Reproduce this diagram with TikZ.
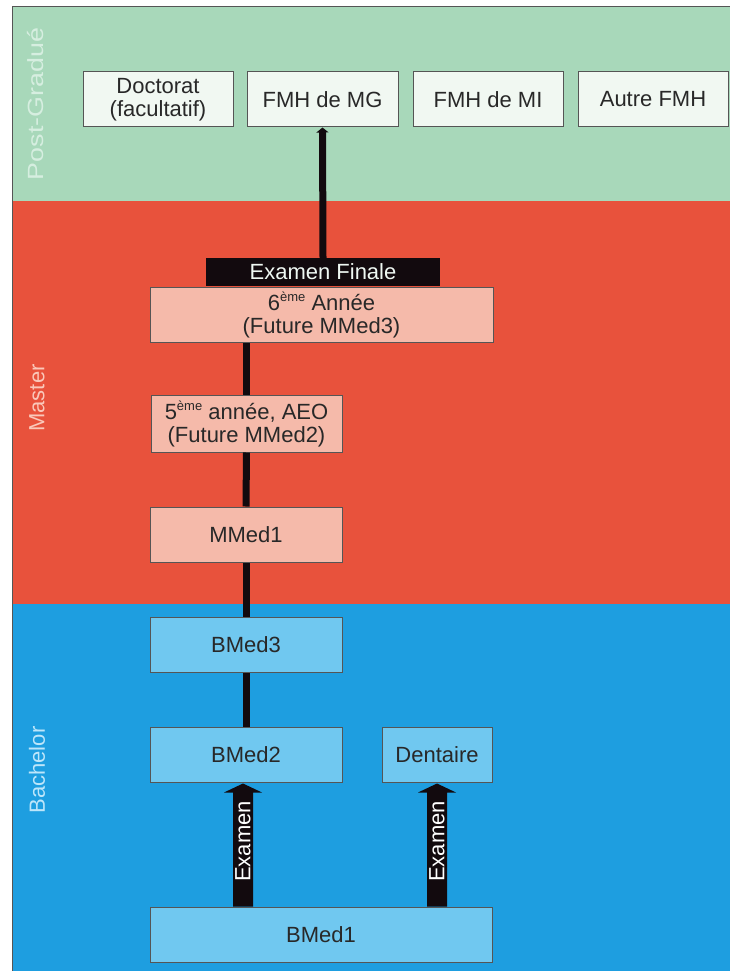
\documentclass[tikz,border=0pt]{standalone}
\usepackage{fontspec}
\usepackage{graphicx}
\setmainfont{Liberation Sans}
\usetikzlibrary{calc,arrows.meta}
\definecolor{bggreen}{RGB}{168,216,186}
\definecolor{bgred}{RGB}{232,82,60}
\definecolor{bgblue}{RGB}{30,158,224}
\definecolor{boxgreen}{RGB}{241,248,242}
\definecolor{boxred}{RGB}{245,186,170}
\definecolor{boxblue}{RGB}{112,200,240}
\definecolor{boxline}{RGB}{85,85,85}
\definecolor{txtgrey}{RGB}{40,40,40}
\definecolor{lblgreen}{RGB}{214,238,224}
\definecolor{lblred}{RGB}{250,200,186}
\definecolor{lblblue}{RGB}{190,230,250}
\definecolor{nearblack}{RGB}{18,10,14}
\newcommand\myeme{\raisebox{9pt}{\fontsize{13}{13}\selectfont ème}}
\tikzset{
  every node/.style={font=\fontsize{22}{23}\selectfont},
  stagebox/.style={draw=boxline, line width=1pt, inner sep=0pt, align=center, text=txtgrey, minimum height=55pt},
  gbox/.style={stagebox, fill=boxgreen, minimum width=150pt},
  rbox/.style={stagebox, fill=boxred},
  bbox/.style={stagebox, fill=boxblue},
  sidelabel/.style={rotate=90, inner sep=0pt, font=\fontsize{22}{23}\selectfont},
  linkline/.style={draw=nearblack, line width=7pt},
  linkarrow/.style={linkline, -{Triangle[width=12pt,length=5pt]}},
  blockarrow/.style={fill=nearblack},
}
\begin{document}
\begin{tikzpicture}[x=1pt,y=-1pt]
\useasboundingbox (0,0) rectangle (730,971);
% bands
\fill[bggreen] (12,7) rectangle (730,201);
\fill[bgred] (12,201) rectangle (730,604);
\fill[bgblue] (12,604) rectangle (730,971);
\draw[boxline, line width=1pt] (12,971) -- (12,7) -- (730,7);
% side labels
\node[sidelabel, text=lblgreen] (lpg) at (36,104) {\scalebox{1.22}[1]{Post-Gradué}};
\node[sidelabel, text=lblred] (lma) at (37,398) {Master};
\node[sidelabel, text=lblblue] (lba) at (37,770) {Bachelor};
% post-graduate boxes
\node[gbox] (doc) at (158,99.5) {Doctorat\\(facultatif)};
\node[gbox, minimum width=151pt] (mg) at (322.5,99.5) {FMH de MG};
\node[gbox] (mi) at (488,99.5) {FMH de MI};
\node[gbox] (autre) at (653,99.5) {Autre FMH};
% master boxes
\node[rbox, minimum width=343pt] (six) at (321.5,314.5) {6\myeme{} Année\\(Future MMed3)};
\node[fill=nearblack, text=lblgreen!40!white, inner sep=0pt, minimum width=234pt, minimum height=28pt] (exf) at (323,272) {Examen Finale};
\node[rbox, minimum width=191pt, minimum height=57pt] (cinq) at (246.5,423.5) {5\myeme{} année, AEO\\(Future MMed2)};
\node[rbox, minimum width=192pt] (mm1) at (246,534.5) {MMed1};
% bachelor boxes
\node[bbox, minimum width=192pt] (bm3) at (246,644.5) {BMed3};
\node[bbox, minimum width=192pt] (bm2) at (246,754.5) {BMed2};
\node[bbox, minimum width=110pt] (dent) at (437,754.5) {Dentaire};
\node[bbox, minimum width=342pt] (bm1) at (321,934.5) {BMed1};
% connectors
\draw[linkarrow] (exf.north) -- (mg.south);
\draw[linkline] (bm2.north) -- (bm3.south);
\draw[linkline] (bm3.north) -- (mm1.south);
\draw[linkline] (mm1.north) -- (cinq.south);
\draw[linkline] (cinq.north) -- (cinq.north |- six.south);
% block arrows "Examen"
\coordinate (xl) at (243,0);
\coordinate (xr) at (437,0);
\path (bm1.north -| xl) coordinate (lb) (bm2.south -| xl) coordinate (lt);
\path (bm1.north -| xr) coordinate (rb) (dent.south -| xr) coordinate (rt);
\fill[blockarrow] ($(lb)+(-10,0)$) -- ($(lt)+(-10,10)$) -- ($(lt)+(-19,10)$) -- ($(lt)+(0,1)$) -- ($(lt)+(19,10)$) -- ($(lt)+(10,10)$) -- ($(lb)+(10,0)$) -- cycle;
\fill[blockarrow] ($(rb)+(-10,0)$) -- ($(rt)+(-10,10)$) -- ($(rt)+(-19,10)$) -- ($(rt)+(0,1)$) -- ($(rt)+(19,10)$) -- ($(rt)+(10,10)$) -- ($(rb)+(10,0)$) -- cycle;
\node[rotate=90, text=white, inner sep=0pt] (exl) at ($(lb)+(0,-65)$) {Examen};
\node[rotate=90, text=white, inner sep=0pt] (exr) at ($(rb)+(0,-65)$) {Examen};
\end{tikzpicture}
\end{document}
